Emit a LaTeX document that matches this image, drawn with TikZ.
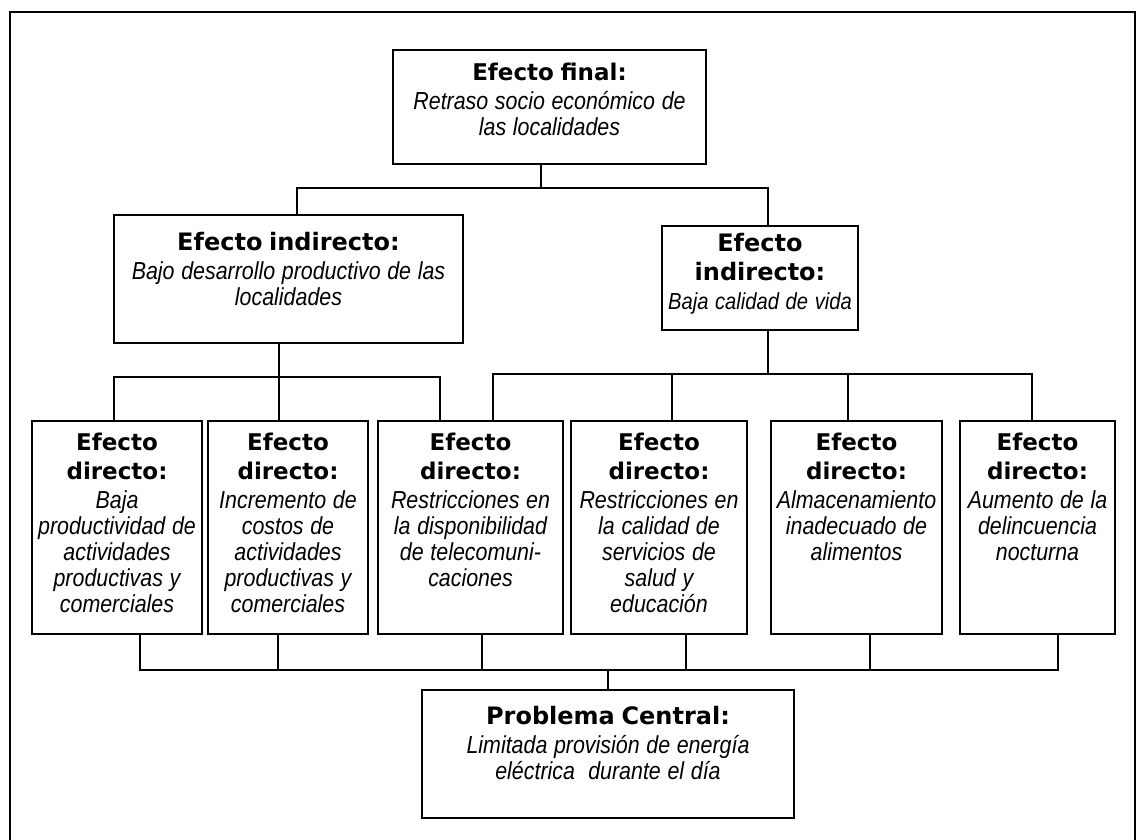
\documentclass[tikz,border=0pt]{standalone}
\usepackage{fontspec}
\setmainfont{Liberation Sans}
\newfontfamily\headfont{DejaVu Sans}
\newfontfamily\bodyfont{Liberation Sans}[FakeStretch=0.87]

% header line(s) in bold, then the italic description
\newcommand{\boxtext}[3][11.5]{%
  {\headfont\bfseries\fontsize{#1}{14.5}\selectfont #2\par}\vspace{1.5pt}%
  {\bodyfont\itshape\fontsize{12.3}{13}\selectfont #3\par}}

\begin{document}
\begin{tikzpicture}[
  x=0.5pt, y=-0.5pt,
  effect/.style={
    draw, line width=1.1pt, anchor=north,
    align=center, inner xsep=2pt, inner ysep=0pt
  },
  direct/.style={effect, text height=14.5pt, text depth=92pt},
  link/.style={line width=0.9pt},
  frame/.style={line width=1pt}
]
\useasboundingbox (0,0) rectangle (1141,840);

%% --- outer frame ---------------------------------------------------------
\draw[frame] (10,840) -- (10,12) -- (1135,12) -- (1135,840);

%% --- final and indirect effects ------------------------------------------
\node[effect, text width=152.5pt, text height=15pt, text depth=42pt]
  (final) at (549.5,49)
  {\boxtext{Efecto final:}{Retraso socio económico de\\las localidades}};
\node[effect, text width=170.5pt, text height=17.5pt, text depth=46.5pt]
  (indprod) at (288.5,214)
  {\boxtext[12]{Efecto indirecto:}{Bajo desarrollo productivo de las\\localidades}};
\node[effect, inner xsep=1pt, text width=96pt, text height=12.5pt, text depth=39.5pt]
  (indvida) at (760,225)
  {\boxtext[12]{Efecto\\indirecto:}{\fontsize{11.6}{13}\selectfont\mbox{Baja calidad de vida}}};

%% --- direct effects ------------------------------------------------------
\node[direct, text width=81pt] (dprod) at (117,420)
  {\boxtext{Efecto\\directo:}{Baja\\productividad de\\actividades\\productivas y\\comerciales}};
\node[direct, text width=76pt] (dcost) at (288,420)
  {\boxtext{Efecto\\directo:}{Incremento de\\costos de\\actividades\\productivas y\\comerciales}};
\node[direct, text width=88.5pt] (dtele) at (470.5,420)
  {\boxtext{Efecto\\directo:}{Restricciones en\\la disponibilidad\\de telecomuni-\\caciones}};
\node[direct, text width=84pt] (dsalud) at (659,420)
  {\boxtext{Efecto\\directo:}{Restricciones en\\la calidad de\\servicios de\\salud y\\educación}};
\node[direct, text width=81.5pt] (dalim) at (856.5,420)
  {\boxtext{Efecto\\directo:}{Almacenamiento\\inadecuado de\\alimentos}};
\node[direct, text width=73.5pt] (ddelin) at (1037.5,420)
  {\boxtext{Efecto\\directo:}{Aumento de la\\delincuencia\\nocturna}};

%% --- central problem -----------------------------------------------------
\node[effect, text width=182pt, text height=17pt, text depth=47pt]
  (central) at (608,689)
  {\boxtext[12]{Problema Central:}{Limitada provisión de energía\\eléctrica~ durante el día}};

%% --- bus points ----------------------------------------------------------
\coordinate (tL) at (297,188);  \coordinate (tM) at (541,188);
\coordinate (tR) at (768,188);
\coordinate (mL1) at (114,377); \coordinate (mL2) at (279,377);
\coordinate (mL3) at (440,377);
\coordinate (mR1) at (493,374); \coordinate (mR2) at (672,374);
\coordinate (mR3) at (768,374); \coordinate (mR4) at (848,374);
\coordinate (mR5) at (1032,374);
\coordinate (b1) at (140,670);  \coordinate (b2) at (278,670);
\coordinate (b3) at (482,670);  \coordinate (b4) at (686,670);
\coordinate (b5) at (870,670);  \coordinate (b6) at (1058,670);
\coordinate (bC) at (608,670);

%% --- connectors ----------------------------------------------------------
\draw[link] (final.south -| tM) -- (tM);
\draw[link] (indprod.north -| tL) -- (tL) -- (tR) -- (indvida.north -| tR);

\draw[link] (indprod.south -| mL2) -- (mL2);
\draw[link] (dprod.north -| mL1) -- (mL1) -- (mL3) -- (dtele.north -| mL3);
\draw[link] (mL2) -- (dcost.north -| mL2);

\draw[link] (indvida.south -| mR3) -- (mR3);
\draw[link] (dtele.north -| mR1) -- (mR1) -- (mR5) -- (ddelin.north -| mR5);
\draw[link] (mR2) -- (dsalud.north -| mR2);
\draw[link] (mR4) -- (dalim.north -| mR4);

\draw[link] (dprod.south -| b1) -- (b1) -- (b6) -- (ddelin.south -| b6);
\draw[link] (dcost.south -| b2) -- (b2);
\draw[link] (dtele.south -| b3) -- (b3);
\draw[link] (dsalud.south -| b4) -- (b4);
\draw[link] (dalim.south -| b5) -- (b5);
\draw[link] (bC) -- (central.north -| bC);

\end{tikzpicture}
\end{document}
